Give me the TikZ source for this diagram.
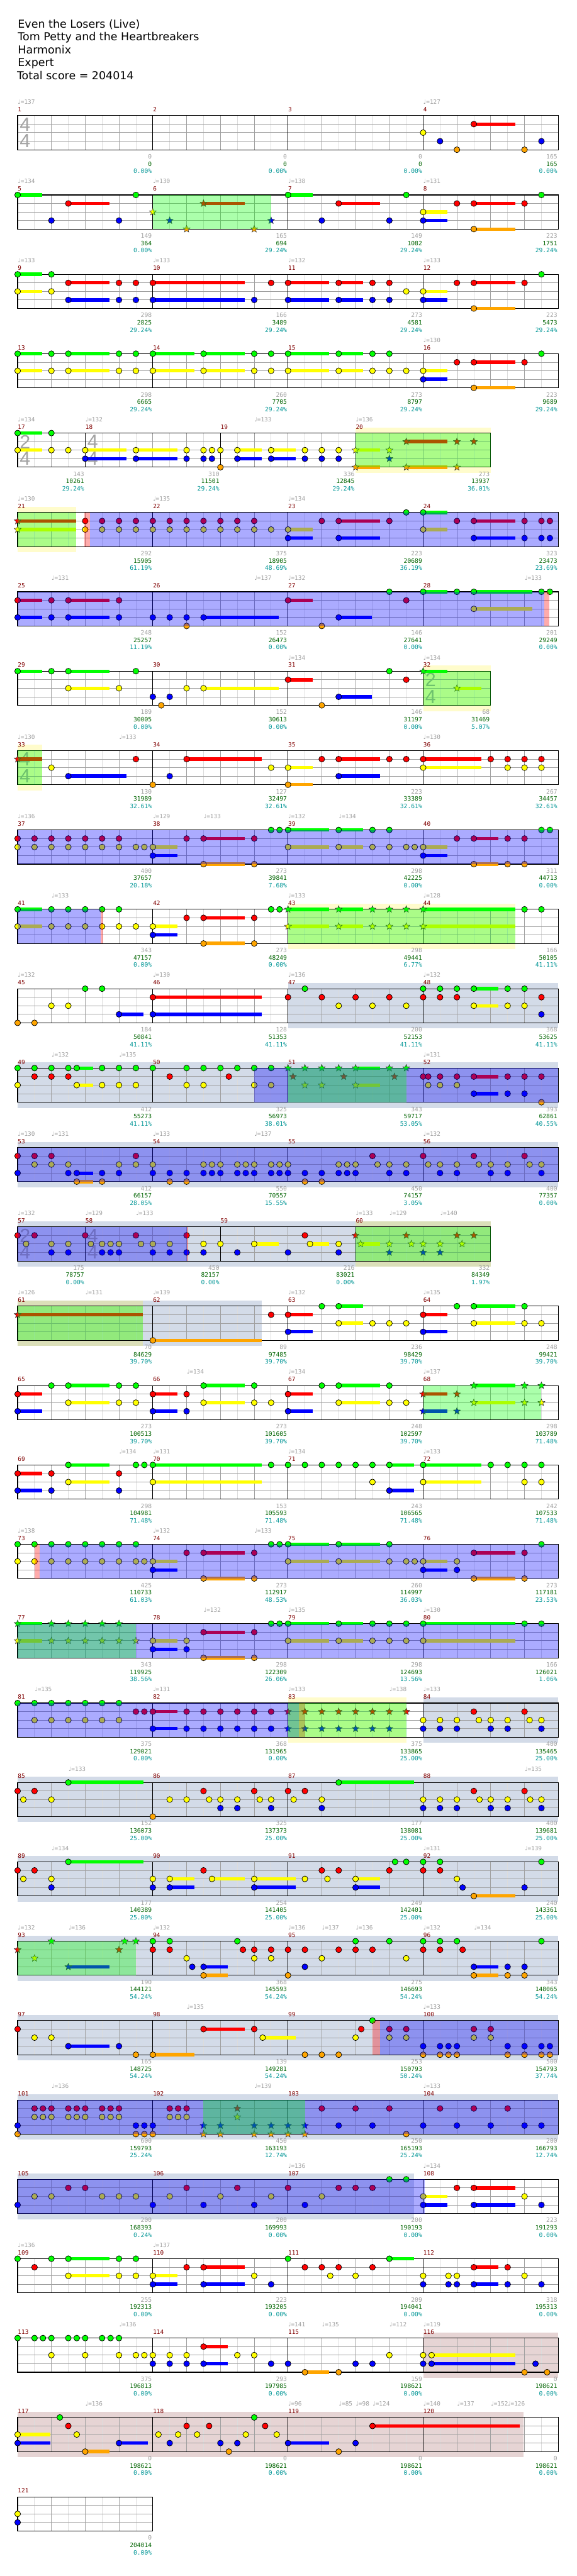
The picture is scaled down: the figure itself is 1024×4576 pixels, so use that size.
\documentclass[tikz,border=0pt]{standalone}
\usepackage{fontspec}
\setmainfont{DejaVu Sans}
\newfontfamily\labfont{DejaVu Sans Mono}
\newfontfamily\notefont{DejaVu Sans}
\newfontfamily\tsfont{Liberation Sans}
\usetikzlibrary{shapes.geometric}

\definecolor{lane0}{RGB}{0,255,0}
\definecolor{lane1}{RGB}{255,0,0}
\definecolor{lane2}{RGB}{255,255,0}
\definecolor{lane3}{RGB}{0,0,255}
\definecolor{lane4}{RGB}{255,165,0}
\definecolor{barnum}{RGB}{128,0,0}
\definecolor{tempogray}{RGB}{160,160,160}
\definecolor{scoregreen}{RGB}{0,100,0}
\definecolor{scoreteal}{RGB}{0,150,150}
\definecolor{gridgray}{RGB}{160,160,160}
\definecolor{gridlight}{RGB}{220,220,220}
\definecolor{solobg}{RGB}{211,219,232}
\definecolor{codabg}{RGB}{230,212,212}

\newcommand\staff[2]{%
  \foreach \pq in {2,4,...,#1}{\draw[gridlight] (\pq,0) -- (\pq,4);}
  \foreach \pq in {4,8,...,#1}{\draw[gridgray] (\pq,0) -- (\pq,4);}
  \foreach \pq in {1,2,3}{\draw[gridgray] (0,\pq) -- (#1,\pq);}
  \foreach \pq in {#2}{\draw[black] (\pq,0) -- (\pq,4);}
  \draw[black,line width=1.2pt] (0,0) rectangle (#1,4);}
\newcommand\gems[1]{\foreach \pos/\lane/\tail in {#1}{%
  \ifdim\tail pt>0pt \fill[lane\lane] (\pos,\lane-0.2) rectangle (\tail,\lane+0.2);\fi
  \node[gem,fill=lane\lane] at (\pos,\lane) {};}}
\newcommand\sgems[1]{\foreach \pos/\lane/\tail in {#1}{%
  \ifdim\tail pt>0pt \fill[lane\lane] (\pos,\lane-0.2) rectangle (\tail,\lane+0.2);\fi
  \node[stargem,fill=lane\lane] at (\pos,\lane) {};}}
\newcommand\odr[2]{\fill[green,fill opacity=.33] (#1,0) rectangle (#2,4);}
\newcommand\act[2]{\fill[blue,fill opacity=.33] (#1,0) rectangle (#2,4);}
\newcommand\actstart[2]{\fill[red,fill opacity=.33] (#1,0) rectangle (#2,4);}
\newcommand\solo[2]{\fill[solobg] (#1,-0.66) rectangle (#2,4.66);}
\newcommand\coda[2]{\fill[codabg] (#1,-0.66) rectangle (#2,4.66);}
\newcommand\fillbg[2]{\fill[yellow,fill opacity=.2] (#1,-0.66) rectangle (#2,4.66);}
\newcommand\tsig[3]{\node[tsnum] at (#1+0.88,1.02) {#2}; \node[tsnum] at (#1+0.88,3.0) {#3};}
\newcommand\mnum[1]{\foreach \pq/\nb in {#1}{\node[barlab] at (\pq,-0.46) {\nb};}}
\newcommand\tempo[1]{\foreach \pq/\nb in {#1}{\node[tempolab] at (\pq,-1.34) {{\notefont ♩}=\nb};}}
\newcommand\scores[1]{\foreach \pq/\na/\nb/\nc in {#1}{%
  \node[scorelab,text=tempogray] at (\pq-0.09,5.06) {\na};
  \node[scorelab,text=scoregreen] at (\pq-0.09,5.91) {\nb};
  \node[scorelab,text=scoreteal] at (\pq-0.09,6.77) {\nc\%};}}

\begin{document}
\begin{tikzpicture}[
  x=1pt, y=-1pt,
  line width=1pt,
  row/.style={shift={(31.3pt,{-205.3pt-141pt*#1})}, x=15pt, y=-15.17pt},
  gem/.style={circle, draw=black, line width=.8pt, minimum size=10.4pt, inner sep=0pt},
  stargem/.style={star, star points=5, star point ratio=2.3, draw=black!80,
                  line width=.6pt, minimum size=13pt, inner sep=0pt},
  titlelab/.style={anchor=base west, inner sep=0pt, font=\fontsize{19.5pt}{23pt}\selectfont},
  barlab/.style={anchor=base west, inner sep=0pt, text=barnum, font=\labfont\fontsize{10.5pt}{12pt}\selectfont},
  tempolab/.style={anchor=base west, inner sep=0pt, text=tempogray, font=\labfont\fontsize{10.5pt}{12pt}\selectfont},
  scorelab/.style={anchor=base east, inner sep=0pt, font=\labfont\fontsize{10.8pt}{12pt}\selectfont},
  tsnum/.style={inner sep=0pt, text=black!36, font=\tsfont\fontsize{34pt}{34pt}\selectfont}
]
\fill[white] (0,0) rectangle (1024,4576);
\useasboundingbox (0,0) rectangle (1024,4576);

\node[titlelab] (song)   at (31.3,49.3)  {Even the Losers (Live)};
\node[titlelab] (artist) at (31.3,72.3)  {Tom Petty and the Heartbreakers};
\node[titlelab] (author) at (31.3,95.3)  {Harmonix};
\node[titlelab] (level)  at (31.3,118.3) {Expert};
\node[titlelab] (total)  at (29.7,141.3) {Total score = 204014};

\begin{scope}[row=0]
\staff{64}{16,32,48}
\tsig{0}{4}{4}
\gems{48/2/0,54/1/58.9,50/3/0,52/4/0,60/4/0,62/3/0}
\mnum{0/1,16/2,32/3,48/4}
\tempo{0/137,48/127}
\scores{16/0/0/0.00,32/0/0/0.00,48/0/0/0.00,64/165/165/0.00}
\end{scope}

\begin{scope}[row=1]
\staff{64}{16,32,48}
\gems{0/0/2.9,6/1/10.9,4/3/0,12/3/0,14/0/0,32/0/34.9,38/1/42.9,36/3/0,44/3/0,46/0/0,48/2/50.9,48/3/50.9,52/1/0,54/1/58.9,60/1/0,54/4/58.9,62/0/0}
\sgems{16/2/0,18/3/0,20/4/0,22/1/26.9,28/4/0,30/3/0}
\odr{16}{30}
\mnum{0/5,16/6,32/7,48/8}
\tempo{0/134,16/130,32/138,48/131}
\scores{16/149/364/0.00,32/165/694/29.24,48/149/1082/29.24,64/223/1751/29.24}
\end{scope}

\begin{scope}[row=2]
\staff{64}{16,32,48}
\gems{0/0/2.9,0/2/2.9,4/0/0,4/2/0,6/1/10.9,6/3/10.9,12/1/0,12/3/0,14/1/0,14/3/0,16/1/26.9,16/3/26.9,28/3/0,30/1/0,32/1/36.9,32/3/36.9,38/1/40.9,38/3/40.9,42/1/0,42/3/0,44/1/0,44/3/0,46/2/0,48/2/50.9,48/3/50.9,52/1/0,54/1/58.9,54/4/58.9,60/1/0,62/0/0}
\mnum{0/9,16/10,32/11,48/12}
\tempo{0/133,16/133,32/132,48/133}
\scores{16/298/2825/29.24,32/166/3489/29.24,48/273/4581/29.24,64/223/5473/29.24}
\end{scope}

\begin{scope}[row=3]
\staff{64}{16,32,48}
\gems{0/0/2.9,0/2/2.9,4/0/0,4/2/0,6/0/10.9,6/2/10.9,12/0/0,12/2/0,14/0/0,14/2/0,16/0/20.9,16/2/20.9,22/0/26.9,22/2/26.9,28/0/0,28/2/0,30/0/0,30/2/0,32/0/36.9,32/2/36.9,38/0/40.9,38/2/40.9,42/0/0,42/2/0,44/0/0,44/2/0,46/2/0,48/2/50.9,48/3/50.9,52/1/0,54/1/58.9,54/4/58.9,60/1/0,62/0/0}
\mnum{0/13,16/14,32/15,48/16}
\tempo{48/130}
\scores{16/298/6665/29.24,32/260/7705/29.24,48/273/8797/29.24,64/223/9689/29.24}
\end{scope}

\begin{scope}[row=4]
\fillbg{40}{56}
\staff{56}{8,24,40}
\tsig{0}{2}{4}
\tsig{8}{4}{4}
\gems{0/0/2.9,0/2/2.9,4/0/0,4/2/0,6/2/0,8/2/12.9,8/3/12.9,14/2/18.9,14/3/18.9,20/2/0,20/3/0,22/2/0,22/3/0,23/2/0,23/3/0,24/2/0,24/4/0,26/2/28.9,26/3/28.9,30/2/32.9,30/3/32.9,34/2/0,34/3/0,36/2/0,36/3/0,38/2/0,38/3/0}
\sgems{40/2/42.9,40/4/42.9,44/2/0,44/3/0,46/1/50.9,46/4/50.9,52/1/0,52/4/0,54/1/0}
\odr{40}{56}
\mnum{0/17,8/18,24/19,40/20}
\tempo{0/134,8/132,28/133,40/136}
\scores{8/143/10261/29.24,24/310/11501/29.24,40/336/12845/29.24,56/273/13937/36.01}
\end{scope}

\begin{scope}[row=5]
\fillbg{0}{6.9}
\staff{64}{16,32,48}
\gems{8/1/0,10/1/0,12/1/0,14/1/0,16/1/0,18/1/0,20/1/0,22/1/0,24/1/0,26/1/0,28/1/0,8/2/0,10/2/0,12/2/0,14/2/0,16/2/0,18/2/0,20/2/0,22/2/0,24/2/0,26/2/0,28/2/0,30/2/0,32/2/34.9,32/3/34.9,36/1/0,38/1/42.9,38/3/42.9,44/1/0,46/0/0,48/0/50.9,48/2/50.9,52/1/0,54/1/58.9,54/3/58.9,60/1/0,60/3/0,62/1/0,62/3/0,63/1/0,63/3/0}
\sgems{0/1/6.9,0/2/6.9}
\odr{0}{6.9}
\actstart{7.9}{8.6}
\act{8.6}{64}
\mnum{0/21,16/22,32/23,48/24}
\tempo{0/130,16/135,32/134}
\scores{16/292/15905/61.19,32/375/18905/48.69,48/223/20689/36.19,64/323/23473/23.69}
\end{scope}

\begin{scope}[row=6]
\staff{64}{16,32,48}
\gems{0/1/2.9,0/3/2.9,4/1/0,4/3/0,6/1/10.9,6/3/10.9,12/1/0,12/3/0,16/3/0,18/3/0,20/3/0,20/4/0,22/3/30.9,32/1/34.9,36/4/0,38/3/41.9,44/0/0,46/1/0,48/0/50.9,52/0/0,54/0/60.9,54/2/60.9,62/0/0,63/0/0}
\act{0}{62.3}
\actstart{62.3}{62.9}
\mnum{0/25,16/26,32/27,48/28}
\tempo{4/131,28/137,32/132,60/133}
\scores{16/248/25257/11.19,32/152/26473/0.00,48/146/27641/0.00,64/201/29249/0.00}
\end{scope}

\begin{scope}[row=7]
\fillbg{48}{56}
\staff{56}{16,32,48}
\tsig{48}{2}{4}
\gems{0/0/2.9,4/0/0,6/0/10.9,6/2/10.9,12/2/0,14/0/0,16/3/0,17/4/0,18/3/0,20/2/0,22/2/30.9,32/1/34.9,36/4/0,38/3/41.9,44/0/0,46/1/0}
\sgems{48/0/50.9,52/2/54.9}
\odr{48}{56}
\mnum{0/29,16/30,32/31,48/32}
\tempo{32/134,48/134}
\scores{16/189/30005/0.00,32/152/30613/0.00,48/146/31197/0.00,56/68/31469/5.07}
\end{scope}

\begin{scope}[row=8]
\fillbg{0}{2.9}
\staff{64}{16,32,48}
\tsig{0}{4}{4}
\gems{4/2/0,6/3/12.9,14/1/0,16/4/0,18/3/0,20/1/28.9,30/2/0,32/2/34.9,32/4/34.9,36/1/0,38/1/42.9,38/3/42.9,44/1/0,46/1/0,48/1/54.9,48/2/54.9,56/1/0,58/1/0,58/2/0,60/1/0,60/2/0,62/1/0,62/2/0}
\sgems{0/1/2.9}
\odr{0}{2.9}
\mnum{0/33,16/34,32/35,48/36}
\tempo{0/130,12/133,48/130}
\scores{16/130/31989/32.61,32/127/32497/32.61,48/223/33389/32.61,64/267/34457/32.61}
\end{scope}

\begin{scope}[row=9]
\staff{64}{16,32,48}
\gems{0/1/0,0/2/0,2/1/0,2/2/0,4/1/0,4/2/0,6/1/0,6/2/0,8/1/0,8/2/0,10/1/0,10/2/0,12/1/0,12/2/0,14/2/0,15/2/0,16/2/18.9,16/3/18.9,20/1/0,22/1/26.9,22/4/26.9,28/1/0,28/4/0,30/0/0,31/0/0,32/0/36.9,32/2/36.9,38/0/40.9,38/2/40.9,42/0/0,42/2/0,44/0/0,44/2/0,46/2/0,47/2/0,48/2/50.9,48/3/50.9,52/1/0,54/1/56.9,54/4/56.9,58/1/0,58/4/0,60/1/0,60/4/0,62/0/0,63/0/0}
\act{0}{64}
\mnum{0/37,16/38,32/39,48/40}
\tempo{0/136,16/129,22/133,32/132,38/134}
\scores{16/400/37657/20.18,32/273/39841/7.68,48/298/42225/0.00,64/311/44713/0.00}
\end{scope}

\begin{scope}[row=10]
\fillbg{32}{58.9}
\staff{64}{16,32,48}
\gems{0/0/2.9,0/2/2.9,4/0/0,4/2/0,6/0/0,6/2/0,8/0/0,8/2/0,10/0/0,10/2/0,12/0/0,12/2/0,14/2/0,16/2/18.9,16/3/18.9,20/1/0,22/1/26.9,22/4/26.9,28/1/0,28/4/0,30/0/0,31/0/0,60/0/0,62/0/0}
\sgems{32/0/36.9,32/2/36.9,38/0/40.9,38/2/40.9,42/0/0,42/2/0,44/0/0,44/2/0,46/0/0,46/2/0,48/0/58.9,48/2/58.9}
\act{0}{9.85}
\actstart{9.85}{10.1}
\odr{32}{58.9}
\mnum{0/41,16/42,32/43,48/44}
\tempo{4/133,32/133,48/128}
\scores{16/343/47157/0.00,32/273/48249/0.00,48/298/49441/6.77,64/166/50105/41.11}
\end{scope}

\begin{scope}[row=11]
\solo{32}{64}
\staff{64}{16,32,48}
\gems{0/4/0,2/4/0,4/2/0,6/2/0,8/0/0,10/0/0,12/3/14.9,16/1/28.9,16/3/28.9,32/1/0,34/0/0,36/1/0,38/2/0,40/1/0,42/2/0,44/1/0,46/2/0,48/0/0,48/1/0,50/0/0,50/1/0,52/0/0,52/1/0,54/0/56.9,54/2/56.9,58/0/0,58/2/0,60/0/0,60/2/0,62/1/0,62/3/0}
\mnum{0/45,16/46,32/47,48/48}
\tempo{0/132,16/130,32/136,48/132}
\scores{16/184/50841/41.11,32/128/51353/41.11,48/200/52153/41.11,64/368/53625/41.11}
\end{scope}

\begin{scope}[row=12]
\solo{0}{64}
\staff{64}{16,32,48}
\gems{0/0/0,0/2/0,2/0/0,2/1/0,4/0/0,4/1/0,6/0/0,6/1/0,7/0/8.9,7/2/8.9,10/0/0,10/2/0,12/0/0,12/2/0,14/0/0,14/2/0,16/0/0,18/1/0,20/0/0,20/2/0,22/0/0,22/2/0,24/0/0,25/1/0,26/0/0,28/0/0,28/2/0,30/0/0,30/2/0,48/1/0,48.6/1/0,48.6/2/0,50/1/0,50/2/0,52/1/0,52/2/0,54/1/56.9,54/3/56.9,58/1/0,58/3/0,60/1/0,60/3/0,62/1/0,62/4/0}
\sgems{32/0/0,32.6/1/0,34/0/0,34/2/0,36/0/0,36/2/0,38/0/0,38.6/1/0,40/0/42.9,40/2/42.9,44/0/0,44.6/1/0,46/0/0}
\act{28}{64}
\odr{32}{46}
\mnum{0/49,16/50,32/51,48/52}
\tempo{4/132,12/135,48/131}
\scores{16/412/55273/41.11,32/325/56973/38.01,48/343/59717/53.05,64/393/62861/40.55}
\end{scope}

\begin{scope}[row=13]
\solo{0}{64}
\staff{64}{16,32,48}
\gems{0/1/0,0/3/0,2/1/0,2/2/0,4/1/0,4/2/0,6/2/0,6/3/0,7/3/8.9,7/4/8.9,10/3/0,10/4/0,12/2/0,12/3/0,14/1/0,14/2/0,16/2/0,16/3/0,18/3/0,18/4/0,20/3/0,20/4/0,22/2/0,22/3/0,23/2/0,23/3/0,24/2/0,24/3/0,26/2/0,26/3/0,27/2/0,27/3/0,28/2/0,28/3/0,30/2/0,30/3/0,31/2/0,31/3/0,32/2/0,32/3/0,34/3/0,34/4/0,36/3/0,36/4/0,38/2/0,38/3/0,39/2/0,39/3/0,40/2/0,40/3/0,42/1/0,42.6/2/0,44/2/0,44/3/0,46/2/0,46/3/0,48/1/0,48.6/2/0,50/2/0,50/3/0,52/2/0,52/3/0,54/1/0,54.6/2/0,56/2/0,56/3/0,58/2/0,58/3/0,60/1/0,60.6/2/0,62/2/0,62/3/0}
\act{0}{64}
\mnum{0/53,16/54,32/55,48/56}
\tempo{0/130,4/131,16/133,28/137,48/132}
\scores{16/412/66157/28.05,32/550/70557/15.55,48/450/74157/3.05,64/400/77357/0.00}
\end{scope}

\begin{scope}[row=14]
\solo{0}{56}
\fillbg{40}{56}
\staff{56}{8,24,40}
\tsig{0}{2}{4}
\tsig{8}{4}{4}
\gems{0/1/0,1/2/0,2/1/0,4/2/0,4/3/0,6/2/0,6/3/0,8/1/0,8.67/2/0,10/2/0,10/3/0,11/2/0,11/3/0,12/2/0,12/3/0,14/1/0,14.6/2/0,16/2/0,16/3/0,18/2/0,18/3/0,20/1/0,20/3/0,22/2/0,22/3/0,24/2/0,26/3/0,28/2/30.9,32/3/0,34/1/0,34.6/2/36.9,38/2/0,38/3/0}
\sgems{40/1/0,40.6/2/42.9,44/2/0,44/3/0,46/1/0,46.6/2/0,48/2/0,48/3/0,50/2/0,50/3/0,52/1/0,52.6/2/0,54/1/0}
\act{0}{20}
\actstart{20}{20.15}
\odr{40}{56}
\mnum{0/57,8/58,24/59,40/60}
\tempo{0/132,8/129,14/133,40/133,44/129,50/140}
\scores{8/175/78757/0.00,24/450/82157/0.00,40/216/83021/0.00,56/332/84349/1.97}
\end{scope}

\begin{scope}[row=15]
\solo{0}{28.9}
\fillbg{0}{14.85}
\staff{64}{16,32,48}
\sgems{0/1/14.85}
\gems{16/4/28.9,30/1/0,32/1/34.9,32/3/34.9,36/0/0,38/0/40.9,38/2/40.9,42/2/0,44/2/0,46/2/0,48/1/50.9,48/3/50.9,52/0/0,54/0/58.9,54/2/58.9,60/0/0,60/2/0,62/2/0}
\odr{0}{14.85}
\mnum{0/61,16/62,32/63,48/64}
\tempo{0/126,8/131,16/139,32/132,48/135}
\scores{16/70/84629/39.70,32/89/97485/39.70,48/236/98429/39.70,64/248/99421/39.70}
\end{scope}

\begin{scope}[row=16]
\staff{64}{16,32,48}
\gems{0/1/2.9,0/3/2.9,4/0/0,6/0/10.9,6/2/10.9,12/0/0,12/2/0,14/0/0,14/2/0,16/1/18.9,16/3/18.9,20/1/0,20/3/0,22/0/26.9,22/2/26.9,28/0/0,28/2/0,30/2/0,32/1/34.9,32/3/34.9,36/0/0,38/0/42.9,38/2/42.9,44/0/0,44/2/0,46/2/0}
\sgems{48/1/50.9,48/3/50.9,52/1/0,52/3/0,54/0/58.9,54/2/58.9,60/0/0,60/2/0,62/0/0,62/2/0}
\odr{48}{62}
\mnum{0/65,16/66,32/67,48/68}
\tempo{20/134,32/134,48/137}
\scores{16/273/100513/39.70,32/273/101605/39.70,48/248/102597/39.70,64/298/103789/71.48}
\end{scope}

\begin{scope}[row=17]
\staff{64}{16,32,48}
\gems{0/1/2.9,0/3/2.9,4/1/0,4/3/0,6/0/10.9,6/2/10.9,12/1/0,12/3/0,14/0/0,15/0/0,16/0/28.9,16/2/28.9,30/0/0,32/0/0,34/0/0,36/0/0,38/0/0,40/0/0,42/0/0,42/2/0,44/0/46.9,44/3/46.9,48/0/54.9,48/2/54.9,56/0/0,58/0/0,60/0/0,60/2/0,62/0/0,62/2/0}
\mnum{0/69,16/70,32/71,48/72}
\tempo{12/134,16/131,32/134,48/133}
\scores{16/298/104981/71.48,32/153/105593/71.48,48/243/106565/71.48,64/242/107533/71.48}
\end{scope}

\begin{scope}[row=18]
\staff{64}{16,32,48}
\gems{0/0/0,0/2/0,2/0/0,2/2/0,4/0/0,4/2/0,6/0/0,6/2/0,8/0/0,8/2/0,10/0/0,10/2/0,12/0/0,12/2/0,14/0/0,14/2/0,15/2/0,16/2/18.9,16/3/18.9,20/1/0,22/1/26.9,22/4/26.9,28/1/0,28/4/0,30/0/0,31/0/0,32/0/36.9,32/2/36.9,38/0/42.9,38/2/42.9,44/0/0,44/2/0,46/2/0,47/2/0,48/2/50.9,48/3/50.9,52/2/0,52/3/0,54/1/58.9,54/4/58.9,60/1/0,60/4/0,62/0/0}
\actstart{2}{2.6}
\act{2.6}{64}
\mnum{0/73,16/74,32/75,48/76}
\tempo{0/138,16/132,28/133}
\scores{16/425/110733/61.03,32/273/112917/48.53,48/260/114997/36.03,64/273/117181/23.53}
\end{scope}

\begin{scope}[row=19]
\staff{64}{16,32,48}
\sgems{0/0/2.9,0/2/2.9,4/0/0,4/2/0,6/0/0,6/2/0,8/0/0,8/2/0,10/0/0,10/2/0,12/0/0,12/2/0,14/2/0}
\gems{16/2/18.9,16/3/18.9,20/2/0,20/3/0,22/1/26.9,22/4/26.9,28/1/0,28/4/0,30/0/0,31/0/0,32/0/36.9,32/2/36.9,38/0/40.9,38/2/40.9,42/0/0,42/2/0,44/0/0,44/2/0,46/0/0,46/2/0,48/0/58.9,48/2/58.9,60/0/0,62/0/0}
\act{0}{64}
\odr{0}{14}
\mnum{0/77,16/78,32/79,48/80}
\tempo{22/132,32/135,48/130}
\scores{16/343/119925/38.56,32/298/122309/26.06,48/298/124693/13.56,64/166/126021/1.06}
\end{scope}

\begin{scope}[row=20]
\fillbg{32}{46}
\solo{48}{64}
\staff{64}{16,32,48}
\gems{0/0/0,2/0/0,2/2/0,4/0/0,4/2/0,6/0/0,6/2/0,8/0/0,8/2/0,10/0/0,10/2/0,12/0/0,12/2/0,14/1/0,15/1/0,16/1/18.9,16/3/18.9,20/1/0,20/3/0,22/1/0,22/3/0,24/1/0,24/3/0,26/1/0,26/3/0,28/1/0,28/3/0,30/1/0,30/3/0,48/2/0,48/3/0,50/2/0,50/3/0,52/2/0,52/3/0,54/1/0,54.6/2/0,56/2/0,56/3/0,58/2/0,58/3/0,60/1/0,60.6/2/0,62/2/0,62/3/0}
\sgems{32/1/0,32/3/0,34/1/0,34/3/0,36/1/0,36/3/0,38/1/0,38/3/0,40/1/0,40/3/0,42/1/0,42/3/0,44/1/0,44/3/0,46/1/0}
\act{0}{33.3}
\actstart{33.3}{34}
\odr{32}{46}
\mnum{0/81,16/82,32/83,48/84}
\tempo{2/135,16/131,32/133,44/138,48/133}
\scores{16/375/129021/0.00,32/368/131965/0.00,48/375/133865/25.00,64/400/135465/25.00}
\end{scope}

\begin{scope}[row=21]
\solo{0}{64}
\staff{64}{16,32,48}
\gems{0/1/0,0.67/2/0,2/1/0,4/2/0,6/0/14.9,16/4/0,18/2/0,20/2/0,22/1/0,22.67/2/0,24/2/0,24/3/0,26/2/0,26/3/0,28/1/0,28.67/2/0,30/2/0,30/3/0,32/1/0,32.67/2/0,34/1/0,36/2/0,36/3/0,38/0/46.9,48/2/0,48/3/0,50/2/0,50/3/0,52/2/0,52/3/0,54/1/0,54.67/2/0,56/2/0,56/3/0,58/2/0,58/3/0,60/1/0,60.67/2/0,62/2/0,62/3/0}
\mnum{0/85,16/86,32/87,48/88}
\tempo{6/133,60/135}
\scores{16/152/136073/25.00,32/325/137373/25.00,48/177/138081/25.00,64/400/139681/25.00}
\end{scope}

\begin{scope}[row=22]
\solo{0}{64}
\staff{64}{16,32,48}
\gems{0/1/0,0.67/2/0,2/1/0,4/2/0,4/3/0,6/0/14.9,16/2/0,16/3/0,18/2/20.9,18/3/20.9,22/1/0,23/2/26.9,28/2/32.9,28/3/32.9,34/2/0,36/1/0,36.67/2/0,38/1/0,40/2/42.9,40/3/42.9,44/1/0,44.67/0/0,46/0/0,48/0/0,48/1/0,50/0/0,50/1/0,52/2/0,52.67/3/0,54/4/58.9,60/3/0,62/0/0}
\mnum{0/89,16/90,32/91,48/92}
\tempo{4/134,48/131,60/139}
\scores{16/177/140389/25.00,32/254/141405/25.00,48/249/142401/25.00,64/240/143361/25.00}
\end{scope}

\begin{scope}[row=23]
\solo{0}{64}
\staff{64}{16,32,48}
\sgems{0/1/0,2/2/0,4/0/0,6/3/10.9,12/1/0,12.67/0/0,14/0/0}
\gems{16/0/0,16/1/0,18/0/0,18/1/0,20/2/0,20.67/3/0,22/3/24.9,22/4/24.9,26/0/0,26.67/1/0,28/1/0,28/2/0,30/1/0,30/2/0,32/1/0,32/4/0,34/1/0,34/3/0,36/2/0,38/1/0,40/0/0,40/1/0,42/1/0,44/0/0,46/2/0,48/0/0,48/1/0,50/0/0,50/1/0,52/0/0,52.67/1/0,54/3/56.9,54/4/56.9,58/3/0,58/4/0,60/3/0,60/4/0,62/0/0}
\odr{0}{14}
\mnum{0/93,16/94,32/95,48/96}
\tempo{0/132,6/136,16/132,32/136,36/137,40/136,48/132,54/134}
\scores{16/190/144121/54.24,32/368/145593/54.24,48/275/146693/54.24,64/343/148065/54.24}
\end{scope}

\begin{scope}[row=24]
\solo{0}{64}
\staff{64}{16,32,48}
\gems{0/1/0,2/2/0,4/2/0,6/3/10.9,12/3/0,14/4/0,16/4/20.9,22/1/26.9,28/1/0,29/2/32.9,34/4/0,36/4/0,38/4/0,40/2/0,40.67/1/0,42/0/0,44/1/0,44/2/0,46/1/0,46/2/0,48/3/0,48/4/0,50/3/0,50/4/0,51/3/0,51/4/0,52/3/0,52/4/0,54/1/0,54/2/0,56/1/0,56/2/0,58/3/0,58/4/0,60/3/0,60/4/0,62/3/0,62/4/0,63/3/0,63/4/0}
\actstart{42}{42.9}
\act{42.9}{64}
\mnum{0/97,16/98,32/99,48/100}
\tempo{20/135,48/133}
\scores{16/165/148725/54.24,32/139/149281/54.24,48/253/150793/50.24,64/500/154793/37.74}
\end{scope}

\begin{scope}[row=25]
\solo{0}{64}
\staff{64}{16,32,48}
\gems{0/3/0,0/4/0,2/1/0,2/2/0,3/1/0,3/2/0,4/1/0,4/2/0,6/1/0,6/2/0,7/1/0,7/2/0,8/1/0,8/2/0,10/1/0,10/2/0,11/1/0,11/2/0,12/1/0,12/2/0,14/3/0,14/4/0,15/3/0,15/4/0,16/3/0,16/4/0,18/1/0,18/2/0,19/1/0,19/2/0,20/1/0,20/2/0,36/1/0,38/3/0,40/1/0,42/3/0,44/1/0,46/4/0,48/3/0,50/1/0,52/3/0,54/1/0,56/3/0,58/1/0,60/3/0,62/3/0}
\sgems{22/3/0,22/4/0,24/3/0,24/4/0,26/1/0,26/2/0,28/3/0,28/4/0,30/3/0,30/4/0,32/3/0,32/4/0,34/3/0,34/4/0}
\act{0}{64}
\odr{22}{34}
\mnum{0/101,16/102,32/103,48/104}
\tempo{4/136,28/139,48/133}
\scores{16/600/159793/25.24,32/450/163193/12.74,48/250/165193/25.24,64/200/166793/12.74}
\end{scope}

\begin{scope}[row=26]
\solo{0}{46.9}
\staff{64}{16,32,48}
\gems{0/3/0,2/2/0,4/2/0,6/1/0,8/1/0,10/2/0,12/2/0,14/2/0,16/3/0,18/2/0,20/1/0,22/3/0,24/2/0,26/1/0,28/3/0,30/2/0,32/1/0,34/3/0,36/2/0,38/1/0,40/1/0,42/1/0,44/0/0,46/0/0,48/2/50.9,48/3/50.9,52/1/0,54/1/58.9,54/3/58.9,60/2/0,62/3/0}
\act{0}{48.2}
\mnum{0/105,16/106,32/107,48/108}
\tempo{32/136,48/134}
\scores{16/200/168393/0.24,32/200/169993/0.00,48/200/190193/0.00,64/223/191293/0.00}
\end{scope}

\begin{scope}[row=27]
\staff{64}{16,32,48}
\gems{0/0/0,2/1/0,4/0/0,6/0/10.9,6/2/10.9,12/0/0,12/2/0,14/0/0,14/2/0,16/2/18.9,16/3/18.9,20/1/0,22/1/26.9,22/3/26.9,28/2/0,30/3/0,32/0/0,34/1/0,36/1/0,37/2/0,38/1/0,40/2/0,42/1/0,44/0/46.9,48/2/0,48/3/0,51/2/0,51/3/0,52/2/0,52/3/0,54/1/56.9,54/3/56.9,58/1/0,58/3/0,60/2/0,62/3/0}
\mnum{0/109,16/110,32/111,48/112}
\tempo{0/136,16/137}
\scores{16/255/192313/0.00,32/223/193205/0.00,48/209/194041/0.00,64/318/195313/0.00}
\end{scope}

\begin{scope}[row=28]
\coda{48}{64}
\staff{64}{16,32,48}
\gems{0/0/0,2/0/0,3/0/0,4/0/0,4/2/0,6/0/0,7/0/0,8/0/0,8/2/0,10/0/0,11/0/0,12/0/0,12/2/0,14/2/0,15/2/0,16/2/0,16/3/0,18/2/0,18/3/0,20/2/0,20/3/0,22/1/24.9,22/3/24.9,26/2/0,28/2/0,30/3/0,32/3/0,34/4/36.9,38/4/0,40/3/0,42/3/0,44/2/0,48/2/0,48/3/0,49/2/58.9,49/3/58.9,60/4/0,61.3/3/0,62.67/4/0}
\mnum{0/113,16/114,32/115,48/116}
\tempo{12/136,32/141,36/135,44/112,48/119}
\scores{16/375/196813/0.00,32/293/197985/0.00,48/159/198621/0.00,64/0/198621/0.00}
\end{scope}

\begin{scope}[row=29]
\coda{0}{59.9}
\staff{64}{16,32,48}
\gems{0/2/3.9,0/3/3.9,5/0/0,6/1/0,7/2/0,8/4/10.9,12/3/15.4,16.67/2/0,18/3/0,19/2/0,20/1/0,21.25/2/0,22.67/1/0,24/3/0,25/4/0,26/3/0,27/2/0,28/0/0,29.3/1/0,30.67/2/0,32/3/36.9,38/4/0,40/3/0,42/1/59.4}
\mnum{0/117,16/118,32/119,48/120}
\tempo{8/136,32/96,38/85,40/98,42/124,48/140,52/137,56/152,58/126}
\scores{16/0/198621/0.00,32/0/198621/0.00,48/0/198621/0.00,64/0/198621/0.00}
\end{scope}

\begin{scope}[row=30]
\staff{16}{}
\gems{0/2/0,0/3/0}
\mnum{0/121}
\scores{16/0/204014/0.00}
\end{scope}
\end{tikzpicture}
\end{document}
